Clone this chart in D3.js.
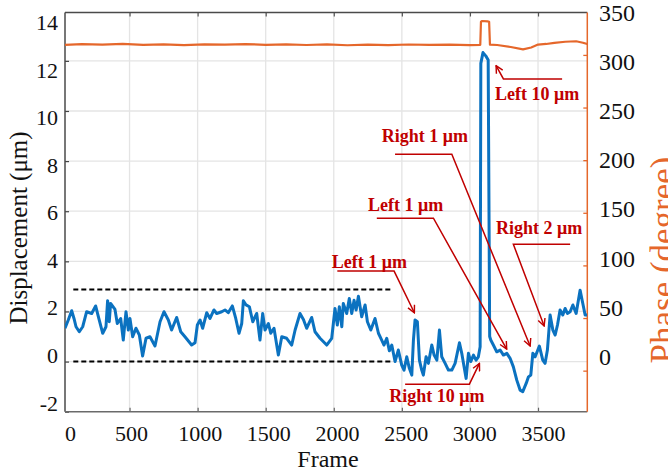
<!DOCTYPE html>
<html>
<head>
<meta charset="utf-8">
<script src="https://cdn.jsdelivr.net/npm/d3@7"></script>
<style>
  body { margin: 0; background: #fff; }
  text { font-family: "Times New Roman", "Liberation Serif", serif; }
</style>
</head>
<body>
<svg id="chart" width="668" height="473"></svg>
<script>
// displacement trace (frame, µm)
const frames = [26, 50, 75, 92, 107, 131, 156, 185, 222, 251, 271, 303, 327, 339, 351, 361, 393, 410, 435, 454,
  474, 491, 503, 523, 547, 572, 596, 621, 650, 687, 724, 753, 785, 809, 846, 876, 907, 956, 981, 998,
  1018, 1037, 1067, 1091, 1120, 1140, 1177, 1201, 1225, 1255, 1280, 1304, 1324, 1336, 1356, 1380, 1405, 1434, 1458, 1478,
  1495, 1520, 1537, 1561, 1593, 1618, 1654, 1691, 1716, 1752, 1777, 1801, 1838, 1862, 1899, 1948, 1985, 2009, 2026, 2041,
  2059, 2070, 2095, 2114, 2132, 2149, 2164, 2181, 2205, 2230, 2247, 2272, 2303, 2328, 2352, 2369, 2389, 2408, 2426, 2450,
  2474, 2499, 2516, 2536, 2555, 2573, 2585, 2597, 2614, 2629, 2646, 2658, 2678, 2695, 2720, 2737, 2757, 2776, 2793, 2818,
  2842, 2867, 2891, 2923, 2940, 2957, 2972, 2989, 3006, 3026, 3045, 3062, 3075, 3080, 3096, 3116, 3134, 3145, 3153, 3172,
  3197, 3222, 3246, 3271, 3295, 3319, 3344, 3369, 3388, 3413, 3430, 3447, 3462, 3479, 3510, 3535, 3552, 3569, 3589, 3609,
  3626, 3643, 3662, 3682, 3699, 3716, 3736, 3756, 3780, 3809, 3829, 3846, 3862]
const displacement = [1.33, 1.66, 2.03, 1.72, 1.39, 1.19, 1.39, 1.99, 1.92, 2.22, 1.79, 1.13, 1.39, 2.43, 1.59, 2.32, 2.08, 1.52, 1.72, 0.86,
  1.99, 1.26, 1.72, 0.99, 1.33, 1.06, 0.22, 0.93, 0.99, 0.62, 1.59, 1.99, 1.66, 1.26, 1.76, 1.19, 0.99, 0.66, 0.75, 1.46,
  1.66, 1.33, 1.95, 1.72, 2.06, 1.92, 1.99, 2.06, 1.95, 2.22, 1.72, 1.13, 1.52, 2.43, 2.26, 2.19, 1.59, 1.92, 0.86, 1.92,
  1.26, 1.52, 1.13, 1.33, 0.26, 0.99, 0.93, 0.66, 1.26, 1.92, 1.68, 1.33, 1.76, 1.19, 0.93, 0.66, 0.93, 2.12, 1.46, 2.19,
  1.39, 2.32, 1.92, 2.52, 1.92, 2.45, 2.06, 2.61, 1.79, 2.26, 1.59, 1.26, 1.72, 1.13, 0.86, 0.66, 0.93, 0.43, 0.66, 0.0,
  0.46, -0.14, -0.34, 0.19, -0.27, -0.54, 0.86, 1.66, 1.59, 0.06, -0.34, -0.54, 0.19, -0.07, 0.66, 0.26, 0.06, 1.26, 0.19, -0.07,
  -0.34, -0.34, -0.07, 0.75, 0.33, -0.21, -0.67, 0.33, 0.0, 0.26, 0.06, 0.19, 0.59, 11.9, 12.33, 12.2, 12.03, 1.0, 0.86, 0.66,
  0.39, 0.46, 0.26, 0.33, 0.13, -0.21, -0.74, -1.14, -1.2, -0.87, -0.61, -0.54, 0.33, 0.19, 0.62, 0.06, -0.07, 0.46, 1.86, 1.26,
  1.06, 1.46, 2.06, 1.86, 2.12, 1.92, 1.99, 2.26, 1.92, 2.85, 2.32, 1.86, 1.86]

// phase trace (frame, degree)
const phaseFrames = [26, 150, 300, 450, 600, 750, 900, 1050, 1200, 1350, 1500, 1650, 1800, 1950, 2100, 2250, 2400, 2550, 2700, 2850,
  3000, 3076, 3081, 3090, 3130, 3141, 3147, 3200, 3300, 3390, 3450, 3500, 3560, 3620, 3700, 3780, 3830, 3862]
const phaseDeg = [309.5, 310.2, 309.8, 310.5, 309.6, 310.0, 309.3, 310.1, 309.7, 310.3, 309.6, 310.0, 309.4, 310.1, 309.2, 309.8, 309.3, 309.9, 309.5, 309.8,
  309.3, 309.6, 331.5, 332.2, 331.8, 331.5, 309.8, 309.4, 307.5, 305.3, 307.0, 309.8, 310.4, 311.5, 312.5, 313.0, 311.6, 310.3]

const frameTicks = [0, 500, 1000, 1500, 2000, 2500, 3000, 3500]
const dispTicks = [-2, 0, 2, 4, 6, 8, 10, 12, 14]
const phaseTicks = [0, 50, 100, 150, 200, 250, 300, 350]

// dashed band limits (µm) and their frame span
const bandLevels = [2.88, 0]
const bandFrames = [87, 2420]

// annotations: label anchor and leader path in data units (frame, µm)
const notes = [
  { label: 'Left 10 μm', at: [3185, 10.44], path: [[3677, 11.28], [3246, 11.28], [3192, 11.81]] },
  { label: 'Right 1 μm', at: [2353, 8.75], path: [[2450, 8.27], [2867, 8.27], [3442, 0.62]] },
  { label: 'Left 1 μm', at: [2252, 6.0], path: [[2316, 5.72], [2732, 5.72], [3270, 0.5]] },
  { label: 'Right 2 μm', at: [3192, 5.1], path: [[3736, 4.68], [3319, 4.68], [3545, 1.42]] },
  { label: 'Left 1 μm', at: [1985, 3.72], path: [[2026, 3.61], [2443, 3.61], [2592, 1.95]] },
  { label: 'Right 10 μm', at: [2408, -1.62], path: [[2524, -0.9], [2996, -0.9], [3070, -0.07]] }
]

const svg = d3.select('#chart')
const mLeft = 65, mRight = 587.3, mTop = 12.5, mBottom = 411.7
const blue = '#0B72C0', orange = '#E5672B', red = '#C00000'

const x = d3.scaleLinear().domain([26, 3862]).range([mLeft, mRight])
const y = d3.scaleLinear().domain([-2, 13.93]).range([mBottom, mTop])
const y2 = d3.scaleLinear().domain([-39, 340.3]).range([mBottom, mTop])

// tick labels in the figure sit slightly off their tick marks
const xLab = d3.scaleLinear().domain([0, 500, 3500]).range([70, 131, 543])
const yLab = d3.scaleLinear().domain([-2, 14]).range([403, 22.7])
const y2Lab = d3.scaleLinear().domain([0, 350]).range([356.7, 12.7])

svg.append('rect').attr('width', 668).attr('height', 473).attr('fill', '#fff')

svg.append('defs').append('clipPath').attr('id', 'plot')
  .append('rect').attr('x', mLeft).attr('y', mTop).attr('width', mRight - mLeft).attr('height', mBottom - mTop)

// grid
const grid = svg.append('g').attr('stroke', '#e4e4e4').attr('stroke-width', 1.3)
grid.selectAll('.gx').data(frameTicks.filter(d => d > 26))
  .join('line').attr('x1', d => x(d)).attr('x2', d => x(d)).attr('y1', mTop).attr('y2', mBottom)
grid.selectAll('.gy').data(dispTicks.filter(d => d > -2 && d < 13.9))
  .join('line').attr('y1', d => y(d)).attr('y2', d => y(d)).attr('x1', mLeft).attr('x2', mRight)

// tick marks (inward)
const inRange = (s) => (d) => { const v = s(d); return v >= mTop - 0.5 && v <= mBottom + 0.5 }
const xt = frameTicks.filter(d => d > 26)
svg.append('g').attr('transform', `translate(0,${mBottom})`)
  .call(d3.axisBottom(x).tickValues(xt).tickSize(-4).tickFormat(''))
  .call(g => g.selectAll('line').attr('stroke', '#666').attr('stroke-width', 1.2))
  .call(g => g.select('.domain').remove())
svg.append('g').attr('transform', `translate(0,${mTop})`)
  .call(d3.axisTop(x).tickValues(xt).tickSize(-4).tickFormat(''))
  .call(g => g.selectAll('line').attr('stroke', '#555').attr('stroke-width', 1.2))
  .call(g => g.select('.domain').remove())
svg.append('g').attr('transform', `translate(${mLeft},0)`)
  .call(d3.axisLeft(y).tickValues(dispTicks.filter(inRange(y))).tickSize(-4).tickFormat(''))
  .call(g => g.selectAll('line').attr('stroke', '#444').attr('stroke-width', 1.2))
  .call(g => g.select('.domain').remove())
svg.append('g').attr('transform', `translate(${mRight},0)`)
  .call(d3.axisRight(y2).tickValues(phaseTicks.filter(inRange(y2))).tickSize(-4).tickFormat(''))
  .call(g => g.selectAll('line').attr('stroke', orange).attr('stroke-width', 1.3))
  .call(g => g.select('.domain').remove())

// tick labels (plain integers, ascii minus like the figure)
const plain = d => String(d)
const labelStyle = (size) => g => g.call(g => g.select('.domain').remove())
  .call(g => g.selectAll('text').attr('font-size', size).attr('fill', '#111')
    .attr('font-family', '"Times New Roman", "Liberation Serif", serif'))
svg.append('g').attr('transform', 'translate(0,425)')
  .call(d3.axisBottom(xLab).tickValues(frameTicks).tickFormat(plain).tickSize(0).tickPadding(0))
  .call(labelStyle(22))
  .call(g => g.selectAll('text').attr('dy', '0.71em'))
svg.append('g').attr('transform', 'translate(58,0)')
  .call(d3.axisLeft(yLab).tickValues(dispTicks).tickFormat(plain).tickSize(0).tickPadding(0))
  .call(labelStyle(22))
svg.append('g').attr('transform', 'translate(599,0)')
  .call(d3.axisRight(y2Lab).tickValues(phaseTicks).tickFormat(plain).tickSize(0).tickPadding(0))
  .call(labelStyle(24))

// box
const box = svg.append('g').attr('fill', 'none').attr('stroke-width', 1.5)
box.append('line').attr('x1', mLeft).attr('x2', mLeft).attr('y1', mTop).attr('y2', mBottom).attr('stroke', '#4a4a4a')
box.append('line').attr('x1', mLeft).attr('x2', mRight).attr('y1', mTop).attr('y2', mTop).attr('stroke', '#4a4a4a')
box.append('line').attr('x1', mLeft).attr('x2', mRight).attr('y1', mBottom).attr('y2', mBottom).attr('stroke', '#6a6a6a')
box.append('line').attr('x1', mRight).attr('x2', mRight).attr('y1', mTop).attr('y2', mBottom).attr('stroke', orange)

// dashed band
svg.append('g').selectAll('line').data(bandLevels).join('line')
  .attr('x1', x(bandFrames[0])).attr('x2', x(bandFrames[1]))
  .attr('y1', d => y(d)).attr('y2', d => y(d))
  .attr('stroke', '#000').attr('stroke-width', 2).attr('stroke-dasharray', '5,3')

// traces
const plot = svg.append('g').attr('clip-path', 'url(#plot)')
plot.append('path')
  .datum(phaseFrames.map((f, i) => [f, phaseDeg[i]]))
  .attr('d', d3.line().x(d => x(d[0])).y(d => y2(d[1])))
  .attr('fill', 'none').attr('stroke', orange).attr('stroke-width', 2.2).attr('stroke-linejoin', 'round')
plot.append('path')
  .datum(frames.map((f, i) => [f, displacement[i]]))
  .attr('d', d3.line().x(d => x(d[0])).y(d => y(d[1])))
  .attr('fill', 'none').attr('stroke', blue).attr('stroke-width', 3).attr('stroke-linejoin', 'round')

// annotations
svg.select('defs').append('marker')
  .attr('id', 'arrow').attr('viewBox', '0 0 10 10').attr('refX', 9).attr('refY', 5)
  .attr('markerWidth', 9).attr('markerHeight', 9).attr('markerUnits', 'userSpaceOnUse').attr('orient', 'auto')
  .append('path').attr('d', 'M1,1 L9,5 L1,9').attr('fill', 'none').attr('stroke', red).attr('stroke-width', 1.6)

const ann = svg.append('g')
ann.selectAll('path').data(notes).join('path')
  .attr('d', d => d3.line().x(p => x(p[0])).y(p => y(p[1]))(d.path))
  .attr('fill', 'none').attr('stroke', red).attr('stroke-width', 1.5).attr('marker-end', 'url(#arrow)')
ann.selectAll('text').data(notes).join('text')
  .attr('x', d => x(d.at[0])).attr('y', d => y(d.at[1]))
  .attr('font-size', 18).attr('font-weight', 'bold').attr('fill', red)
  .text(d => d.label)

// axis titles
svg.append('text').attr('transform', 'translate(27,228) rotate(-90)')
  .attr('text-anchor', 'middle').attr('font-size', 25).attr('fill', '#111')
  .text('Displacement (μm)')
svg.append('text').attr('transform', 'translate(675,260) rotate(-90)')
  .attr('text-anchor', 'middle').attr('font-size', 35).attr('fill', orange)
  .text('Phase (degree)')
svg.append('text').attr('x', 328).attr('y', 467)
  .attr('text-anchor', 'middle').attr('font-size', 24).attr('fill', '#111')
  .text('Frame')
</script>
</body>
</html>
